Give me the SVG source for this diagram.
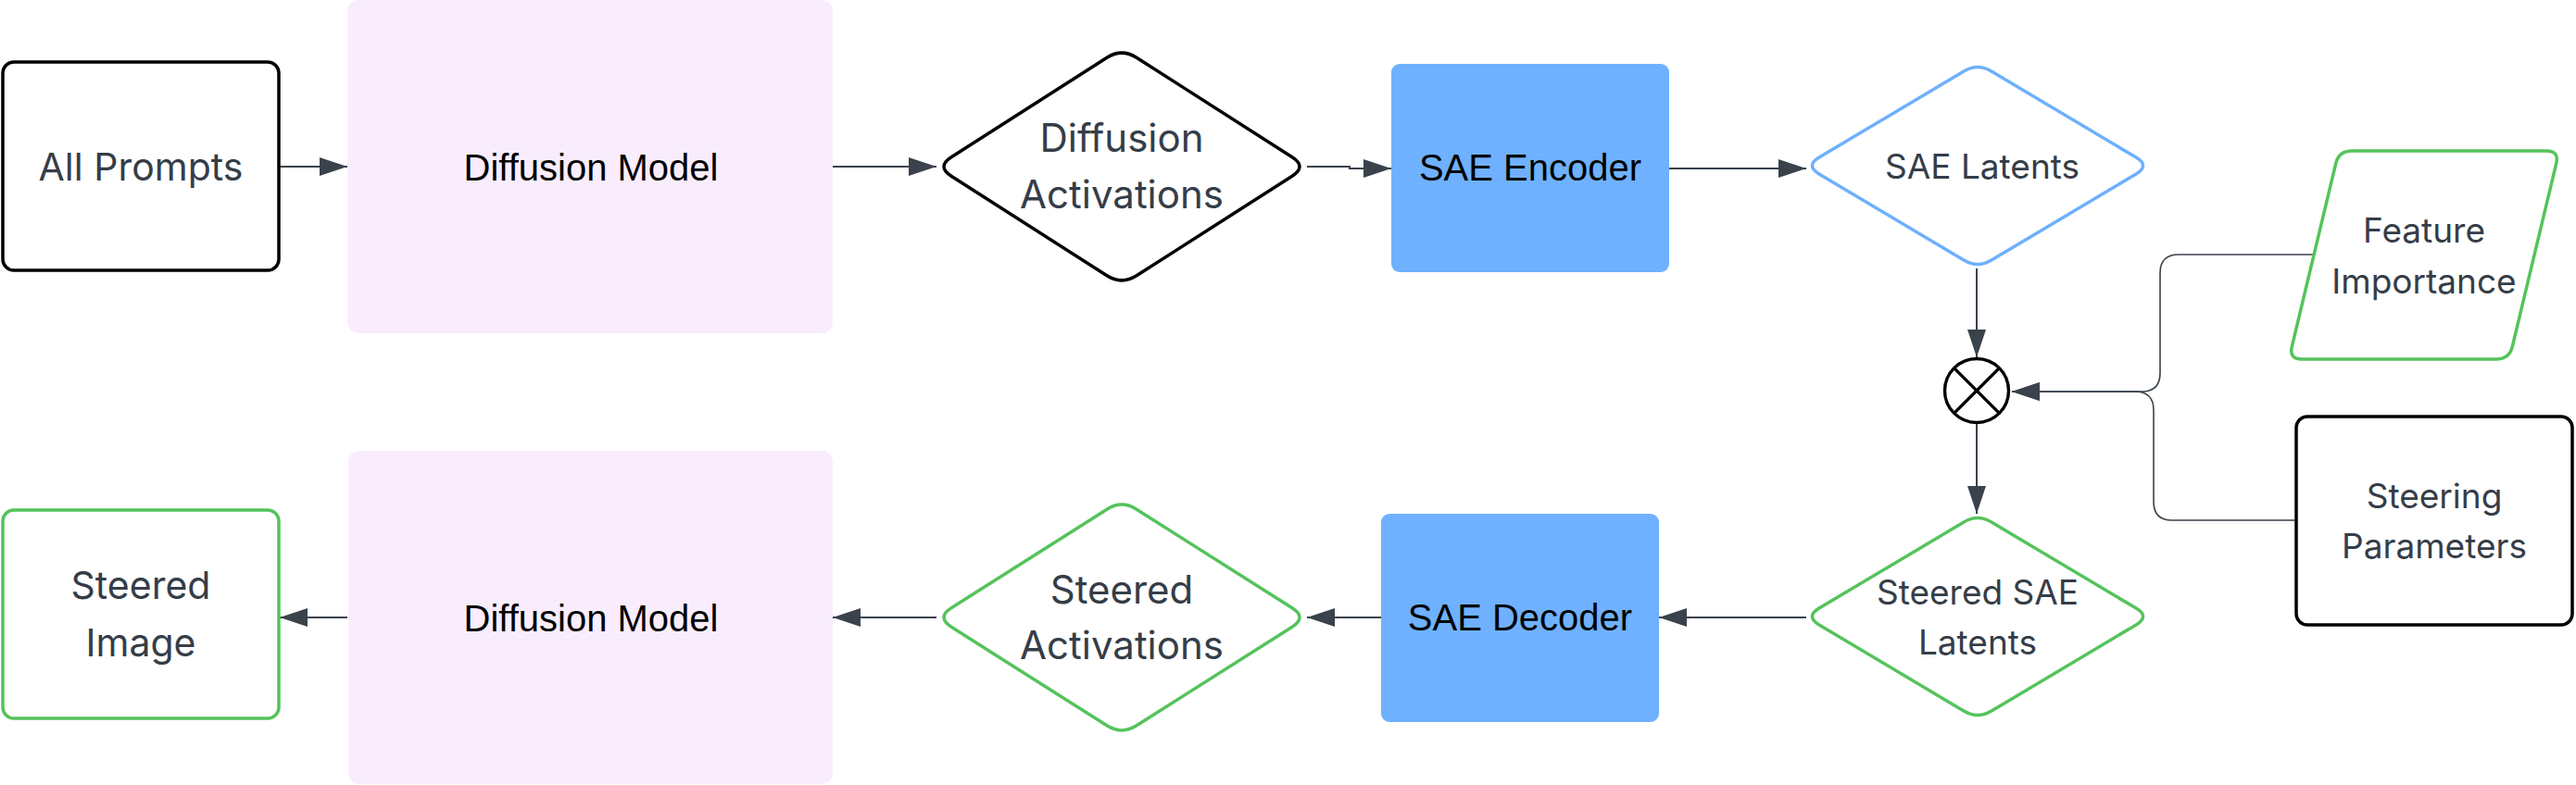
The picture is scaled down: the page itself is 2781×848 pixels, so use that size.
<svg xmlns="http://www.w3.org/2000/svg" width="2781" height="848" viewBox="0 0 2781 848">
<style>
.lbl{font-family:Inter,"Noto Sans","Liberation Sans",sans-serif;fill:#353d48;text-anchor:middle}
.blk{font-family:"Liberation Sans",Arial,sans-serif;fill:#000;font-size:40px;text-anchor:middle}
.pink{fill:#f9edfd}
.blue{fill:#6fb1fe}
.con{fill:none;stroke:#3a424c;stroke-width:2}
.thin{fill:none;stroke:#3a424c;stroke-width:1.6}
</style>
<defs>
<marker id="ah" markerUnits="userSpaceOnUse" markerWidth="30" markerHeight="20" refX="30" refY="10" orient="auto">
<path d="M0,0 L30,10 L0,20 Z" fill="#3a424c"/>
</marker>
</defs>
<rect width="2781" height="848" fill="#fff"/>

<g id="connectors">
<path class="con" d="M302,180 H375" marker-end="url(#ah)"/>
<path class="con" d="M899,180 H1011" marker-end="url(#ah)"/>
<path class="con" d="M1411,180 H1457 V182 H1502" marker-end="url(#ah)"/>
<path class="con" d="M1802,182 H1950" marker-end="url(#ah)"/>
<path class="con" d="M2134,290 V386" marker-end="url(#ah)"/>
<path class="thin" d="M2498,275 H2352 Q2332,275 2332,295 V403 Q2332,423 2312,423 H2172" marker-end="url(#ah)"/>
<path class="thin" d="M2478,562 H2345 Q2325,562 2325,542 V443 Q2325,423 2305,423 H2172" marker-end="url(#ah)"/>
<path class="con" d="M2134,457 V555" marker-end="url(#ah)"/>
<path class="con" d="M1950,667 H1791" marker-end="url(#ah)"/>
<path class="con" d="M1491,667 H1411" marker-end="url(#ah)"/>
<path class="con" d="M1011,667 H899" marker-end="url(#ah)"/>
<path class="con" d="M375,667 H302" marker-end="url(#ah)"/>
</g>

<g id="all-prompts">
<rect x="3" y="67" width="298" height="225" rx="12" fill="#fff" stroke="#000" stroke-width="3.5"/>
<text class="lbl" x="152" y="195" font-size="41">All Prompts</text>
</g>

<g id="diffusion-model-top">
<rect class="pink" x="375" y="0" width="524" height="360" rx="12"/>
<text class="blk" x="638" y="195">Diffusion Model</text>
</g>

<g id="diffusion-activations">
<path d="M1027,169.76 L1195,62.24 Q1211,52 1227,62.24 L1395,169.76 Q1411,180 1395,190.24 L1227,297.76 Q1211,308 1195,297.76 L1027,190.24 Q1011,180 1027,169.76 Z" fill="#fff" stroke="#000" stroke-width="3.5"/>
<text class="lbl" x="1211" y="164" font-size="42">Diffusion</text>
<text class="lbl" x="1211" y="225" font-size="42">Activations</text>
</g>

<g id="sae-encoder">
<rect class="blue" x="1502" y="69" width="300" height="225" rx="9"/>
<text class="blk" x="1652" y="195">SAE Encoder</text>
</g>

<g id="sae-latents">
<path d="M1963.88,170.12 L2120.12,76.88 Q2135,68 2149.88,76.88 L2306.12,170.12 Q2321,179 2306.12,187.88 L2149.88,281.12 Q2135,290 2120.12,281.12 L1963.88,187.88 Q1949,179 1963.88,170.12 Z" fill="#fff" stroke="#6eb0fc" stroke-width="3.5"/>
<text class="lbl" x="2140" y="193" font-size="37">SAE Latents</text>
</g>

<g id="multiply">
<circle cx="2134" cy="422" r="34.5" fill="#fff" stroke="#000" stroke-width="3.4"/>
<path d="M2109.6,397.6 L2158.4,446.4 M2158.4,397.6 L2109.6,446.4" stroke="#000" stroke-width="3.4"/>
</g>

<g id="feature-importance">
<path d="M2539,163 H2749 Q2763,163 2759.7,176.6 L2712.3,374.4 Q2709,388 2695,388 H2485 Q2471,388 2474.3,374.4 L2521.7,176.6 Q2525,163 2539,163 Z" fill="#fff" stroke="#55c35b" stroke-width="3.5"/>
<text class="lbl" x="2617" y="262" font-size="37">Feature</text>
<text class="lbl" x="2617" y="317" font-size="37">Importance</text>
</g>

<g id="steering-parameters">
<rect x="2479" y="450" width="298" height="225" rx="12" fill="#fff" stroke="#000" stroke-width="3.5"/>
<text class="lbl" x="2628" y="549" font-size="37">Steering</text>
<text class="lbl" x="2628" y="603" font-size="37">Parameters</text>
</g>

<g id="steered-sae-latents">
<path d="M1963.88,657.12 L2120.12,563.88 Q2135,555 2149.88,563.88 L2306.12,657.12 Q2321,666 2306.12,674.88 L2149.88,768.12 Q2135,777 2120.12,768.12 L1963.88,674.88 Q1949,666 1963.88,657.12 Z" fill="#fff" stroke="#55c35b" stroke-width="3.5"/>
<text class="lbl" x="2135" y="653" font-size="37">Steered SAE</text>
<text class="lbl" x="2135" y="707" font-size="37">Latents</text>
</g>

<g id="sae-decoder">
<rect class="blue" x="1491" y="555" width="300" height="225" rx="9"/>
<text class="blk" x="1641" y="681">SAE Decoder</text>
</g>

<g id="steered-activations">
<path d="M1027,656.84 L1195,550.16 Q1211,540 1227,550.16 L1395,656.84 Q1411,667 1395,677.16 L1227,783.84 Q1211,794 1195,783.84 L1027,677.16 Q1011,667 1027,656.84 Z" fill="#fff" stroke="#55c35b" stroke-width="3.5"/>
<text class="lbl" x="1211" y="652" font-size="42">Steered</text>
<text class="lbl" x="1211" y="712" font-size="42">Activations</text>
</g>

<g id="diffusion-model-bottom">
<rect class="pink" x="376" y="487" width="523" height="360" rx="12"/>
<text class="blk" x="638" y="682">Diffusion Model</text>
</g>

<g id="steered-image">
<rect x="3" y="551" width="298" height="225" rx="12" fill="#fff" stroke="#55c35b" stroke-width="3.5"/>
<text class="lbl" x="152" y="647" font-size="41">Steered</text>
<text class="lbl" x="152" y="709" font-size="41">Image</text>
</g>
</svg>
